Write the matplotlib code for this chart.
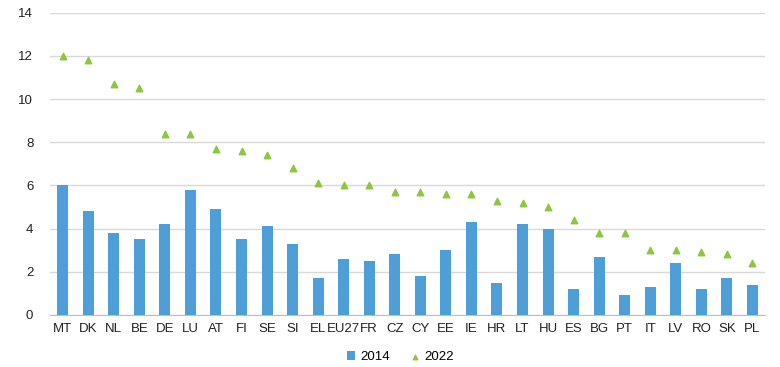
import numpy as np
import matplotlib
matplotlib.use('Agg')
from matplotlib import pyplot as plt

countries = ['MT', 'DK', 'NL', 'BE', 'DE', 'LU', 'AT', 'FI', 'SE', 'SI', 'EL', 'EU27', 'FR', 'CZ',
             'CY', 'EE', 'IE', 'HR', 'LT', 'HU', 'ES', 'BG', 'PT', 'IT', 'LV', 'RO', 'SK', 'PL']
val_2014 = [6.0, 4.8, 3.8, 3.5, 4.2, 5.8, 4.9, 3.5, 4.1, 3.3, 1.7, 2.6, 2.5, 2.8,
            1.8, 3.0, 4.3, 1.5, 4.2, 4.0, 1.2, 2.7, 0.9, 1.3, 2.4, 1.2, 1.7, 1.4]
val_2022 = [12.0, 11.8, 10.7, 10.5, 8.4, 8.4, 7.7, 7.6, 7.4, 6.8, 6.1, 6.0, 6.0, 5.7,
            5.7, 5.6, 5.6, 5.3, 5.2, 5.0, 4.4, 3.8, 3.8, 3.0, 3.0, 2.9, 2.8, 2.4]

plt.rcParams['font.family'] = ['Liberation Sans', 'DejaVu Sans']

fig = plt.figure(figsize=(7.8, 3.67), dpi=100)
ax = fig.add_axes([0.064, 0.142, 0.917, 0.823])

x = np.arange(len(countries))
b = ax.bar(x, val_2014, width=0.43, color='#4e9fd8', label='2014', zorder=2)
sc = ax.scatter(x, val_2022, marker='^', s=22, color='#8dc63f', label='2022', zorder=3)

ax.set_xlim(-0.5, len(countries) - 0.5)
ax.set_ylim(0, 14)
ax.set_yticks(np.arange(0, 15, 2))
ax.set_xticks(x)
ax.set_xticklabels(countries)
ax.tick_params(axis='both', length=0, labelsize=9.5, colors='#222222')
ax.tick_params(axis='y', pad=12)
ax.tick_params(axis='x', pad=6)
ax.grid(axis='y', color='#d9d9d9', linewidth=1, zorder=0)
for s in ['top', 'right', 'left']:
    ax.spines[s].set_visible(False)
ax.spines['bottom'].set_color('#bfbfbf')
ax.spines['bottom'].set_zorder(1)

ax.legend([b, sc], ['2014', '2022'], loc='center', bbox_to_anchor=(0.49, -0.14), ncol=2,
          frameon=False, fontsize=9.5, handlelength=0.6, handleheight=0.6, handletextpad=0.4,
          columnspacing=1.6, markerscale=0.7)

plt.savefig('out.png', facecolor='white', dpi=100)
